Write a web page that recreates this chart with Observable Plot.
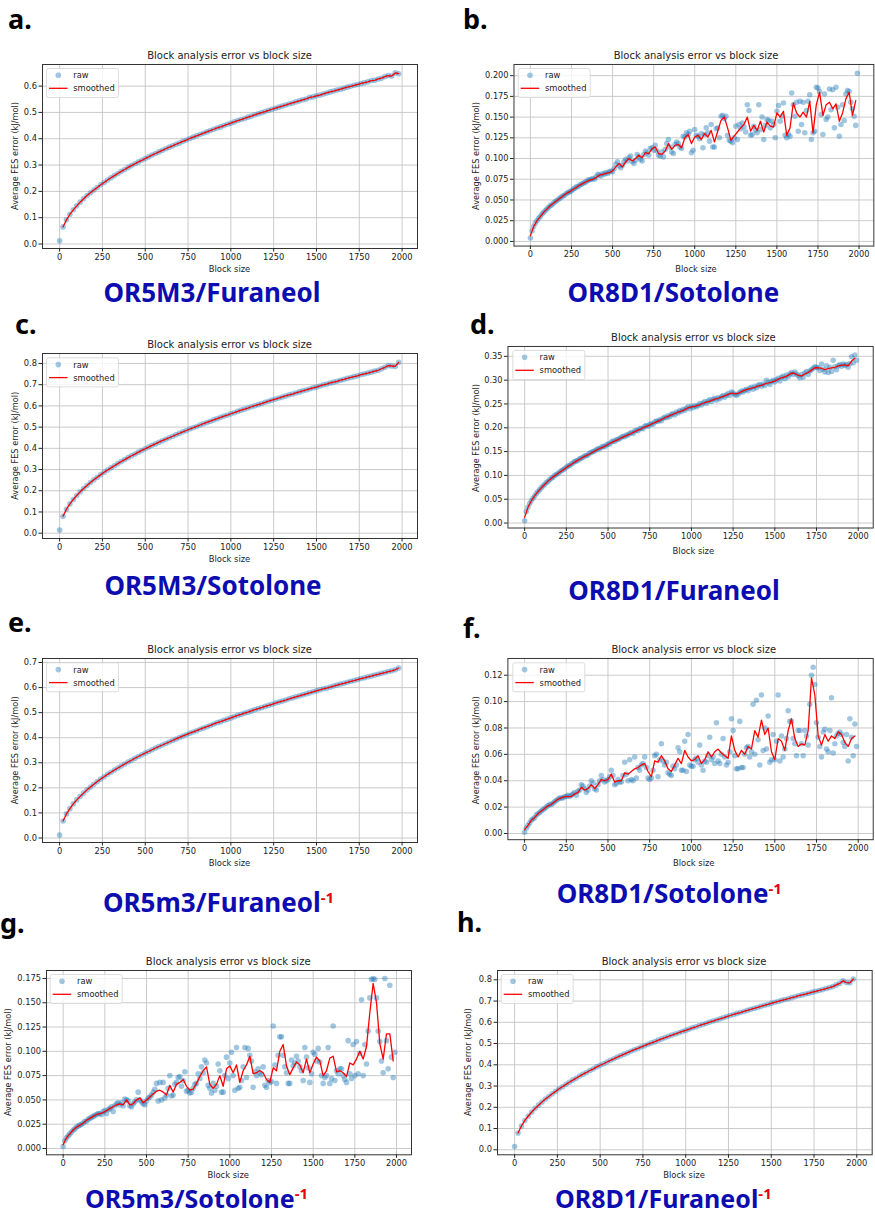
<!DOCTYPE html>
<html><head><meta charset="utf-8">
<script src="https://cdn.jsdelivr.net/npm/d3@7"></script>
<script src="https://cdn.jsdelivr.net/npm/@observablehq/plot@0.6"></script>
<style>
html,body{margin:0;padding:0;background:#fff;overflow:hidden;}
#page{position:relative;width:875px;height:1214px;overflow:hidden;background:#fff;}
.panel{position:absolute;}
#overlay{position:absolute;left:0;top:0;pointer-events:none;}
</style></head><body><div id="page"></div>
<script>
// ---------- DATA ----------
const blockSizes10 = d3.range(0, 2000, 10);   // raw samples of noisy panels
const blockSizes20 = d3.range(0, 2000, 20);   // samples of smooth panels / smoothed lines
const xTickValues = [0, 250, 500, 750, 1000, 1250, 1500, 1750, 2000];

const yTicksA = [0, 0.1, 0.2, 0.3, 0.4, 0.5, 0.6];
const yTicksB = [0, 0.025, 0.05, 0.075, 0.1, 0.125, 0.15, 0.175, 0.2];
const yTicksC = [0, 0.1, 0.2, 0.3, 0.4, 0.5, 0.6, 0.7, 0.8];
const yTicksD = [0, 0.05, 0.1, 0.15, 0.2, 0.25, 0.3, 0.35];
const yTicksE = [0, 0.1, 0.2, 0.3, 0.4, 0.5, 0.6, 0.7];
const yTicksF = [0, 0.02, 0.04, 0.06, 0.08, 0.1, 0.12];
const yTicksG = [0, 0.025, 0.05, 0.075, 0.1, 0.125, 0.15, 0.175];
const yTicksH = [0, 0.1, 0.2, 0.3, 0.4, 0.5, 0.6, 0.7, 0.8];

const panelNames = ["OR5M3/Furaneol", "OR8D1/Sotolone", "OR5M3/Sotolone", "OR8D1/Furaneol",
                    "OR5m3/Furaneol", "OR8D1/Sotolone", "OR5m3/Sotolone", "OR8D1/Furaneol"];
const panelLetters = ["a.", "b.", "c.", "d.", "e.", "f.", "g.", "h."];

// a. OR5M3/Furaneol (every 20)
const aRaw = [
0.012,0.065,0.092,0.113,0.130,0.145,0.159,0.172,0.184,0.195,
0.205,0.215,0.225,0.234,0.243,0.252,0.260,0.268,0.276,0.283,
0.291,0.298,0.305,0.312,0.318,0.325,0.331,0.338,0.344,0.350,
0.356,0.362,0.368,0.373,0.379,0.384,0.390,0.395,0.401,0.406,
0.411,0.416,0.421,0.426,0.431,0.436,0.441,0.445,0.450,0.455,
0.459,0.464,0.469,0.473,0.477,0.482,0.486,0.491,0.495,0.499,
0.503,0.508,0.512,0.516,0.520,0.524,0.528,0.532,0.536,0.540,
0.544,0.548,0.551,0.557,0.559,0.563,0.566,0.570,0.574,0.578,
0.581,0.585,0.588,0.592,0.596,0.599,0.603,0.606,0.610,0.613,
0.616,0.621,0.622,0.627,0.630,0.636,0.640,0.638,0.650,0.647];

// b. OR8D1/Sotolone raw (every 10) and smoothed (every 20)
const bRaw = [
0.004,0.013,0.018,0.022,0.025,0.028,0.030,0.033,0.035,0.037,
0.039,0.041,0.043,0.044,0.046,0.048,0.049,0.051,0.052,0.054,
0.055,0.056,0.058,0.059,0.060,0.061,0.063,0.064,0.066,0.066,
0.068,0.069,0.070,0.071,0.072,0.074,0.074,0.075,0.076,0.075,
0.078,0.081,0.080,0.079,0.082,0.081,0.083,0.082,0.084,0.085,
0.084,0.088,0.093,0.096,0.091,0.089,0.092,0.096,0.099,0.097,
0.101,0.103,0.096,0.094,0.098,0.105,0.102,0.099,0.097,0.105,
0.109,0.107,0.104,0.112,0.113,0.110,0.116,0.109,0.104,0.103,
0.108,0.102,0.111,0.118,0.123,0.114,0.108,0.106,0.117,0.120,
0.118,0.114,0.112,0.127,0.126,0.131,0.129,0.133,0.107,0.110,
0.135,0.128,0.127,0.124,0.130,0.113,0.129,0.137,0.131,0.121,
0.141,0.114,0.114,0.136,0.137,0.125,0.151,0.152,0.148,0.151,
0.128,0.122,0.121,0.119,0.125,0.139,0.123,0.141,0.136,0.143,
0.138,0.132,0.165,0.158,0.128,0.129,0.139,0.134,0.131,0.165,
0.135,0.150,0.123,0.140,0.147,0.146,0.137,0.145,0.141,0.125,
0.157,0.164,0.145,0.151,0.167,0.128,0.125,0.129,0.127,0.179,
0.165,0.151,0.168,0.133,0.169,0.141,0.168,0.131,0.158,0.169,
0.177,0.123,0.131,0.133,0.186,0.185,0.181,0.153,0.129,0.178,
0.147,0.150,0.184,0.159,0.183,0.137,0.186,0.162,0.127,0.141,
0.165,0.146,0.178,0.182,0.181,0.168,0.160,0.151,0.140,0.203];
const bSmooth = [
0.007,0.018,0.025,0.030,0.035,0.039,0.043,0.046,0.049,0.052,
0.055,0.058,0.060,0.063,0.065,0.068,0.070,0.072,0.074,0.075,
0.077,0.080,0.081,0.082,0.083,0.085,0.090,0.094,0.090,0.096,
0.100,0.097,0.100,0.104,0.101,0.107,0.106,0.112,0.114,0.106,
0.105,0.109,0.118,0.111,0.116,0.117,0.113,0.125,0.129,0.118,
0.126,0.128,0.123,0.130,0.126,0.134,0.120,0.133,0.146,0.150,
0.137,0.122,0.127,0.132,0.137,0.141,0.150,0.133,0.140,0.134,
0.145,0.132,0.144,0.139,0.138,0.155,0.150,0.157,0.128,0.137,
0.167,0.155,0.150,0.156,0.150,0.169,0.131,0.165,0.180,0.152,
0.165,0.168,0.160,0.166,0.145,0.155,0.172,0.180,0.152,0.170];

// c. OR5M3/Sotolone (every 20)
const cRaw = [
0.015,0.080,0.113,0.138,0.159,0.178,0.195,0.211,0.225,0.239,
0.252,0.264,0.276,0.287,0.298,0.308,0.318,0.328,0.338,0.347,
0.356,0.365,0.373,0.382,0.390,0.398,0.406,0.414,0.421,0.429,
0.436,0.443,0.450,0.457,0.464,0.471,0.478,0.484,0.491,0.497,
0.503,0.510,0.516,0.522,0.528,0.534,0.540,0.546,0.552,0.557,
0.563,0.568,0.574,0.580,0.585,0.590,0.596,0.601,0.606,0.611,
0.617,0.622,0.627,0.632,0.637,0.642,0.647,0.652,0.656,0.661,
0.666,0.671,0.675,0.680,0.685,0.689,0.694,0.699,0.703,0.708,
0.712,0.716,0.721,0.725,0.730,0.734,0.738,0.742,0.747,0.751,
0.755,0.759,0.764,0.768,0.775,0.782,0.790,0.788,0.786,0.805];

// d. OR8D1/Furaneol raw (every 10) and smoothed (every 20)
const dRaw = [
0.005,0.024,0.033,0.041,0.047,0.052,0.057,0.062,0.066,0.070,
0.074,0.078,0.081,0.085,0.087,0.091,0.094,0.096,0.100,0.102,
0.104,0.107,0.110,0.112,0.114,0.117,0.120,0.121,0.124,0.126,
0.129,0.130,0.132,0.135,0.136,0.138,0.141,0.142,0.143,0.147,
0.148,0.150,0.151,0.154,0.156,0.156,0.159,0.161,0.160,0.164,
0.166,0.166,0.170,0.172,0.171,0.175,0.176,0.177,0.180,0.182,
0.181,0.185,0.185,0.188,0.190,0.188,0.193,0.195,0.194,0.198,
0.199,0.198,0.203,0.205,0.203,0.207,0.209,0.207,0.212,0.214,
0.213,0.217,0.215,0.220,0.222,0.221,0.225,0.223,0.228,0.230,
0.227,0.233,0.231,0.236,0.234,0.239,0.237,0.241,0.244,0.240,
0.245,0.242,0.246,0.244,0.247,0.251,0.248,0.252,0.255,0.251,
0.256,0.259,0.255,0.260,0.262,0.258,0.263,0.261,0.265,0.268,
0.264,0.269,0.272,0.268,0.275,0.273,0.270,0.268,0.271,0.274,
0.277,0.275,0.279,0.281,0.278,0.283,0.285,0.281,0.287,0.284,
0.289,0.291,0.287,0.292,0.289,0.300,0.295,0.291,0.297,0.300,
0.296,0.301,0.304,0.298,0.306,0.308,0.303,0.311,0.307,0.313,
0.316,0.312,0.317,0.313,0.309,0.305,0.312,0.306,0.315,0.318,
0.312,0.319,0.322,0.325,0.328,0.327,0.326,0.320,0.334,0.323,
0.317,0.330,0.316,0.327,0.318,0.342,0.328,0.322,0.330,0.333,
0.329,0.334,0.331,0.333,0.327,0.335,0.349,0.336,0.353,0.342];
const dSmooth = [
0.012,0.033,0.047,0.057,0.066,0.074,0.081,0.088,0.094,0.099,
0.104,0.109,0.114,0.119,0.123,0.128,0.132,0.136,0.140,0.143,
0.147,0.151,0.155,0.158,0.161,0.165,0.169,0.172,0.175,0.179,
0.182,0.185,0.188,0.192,0.195,0.198,0.202,0.204,0.208,0.211,
0.214,0.217,0.221,0.224,0.227,0.230,0.233,0.235,0.238,0.242,
0.244,0.245,0.247,0.250,0.253,0.255,0.257,0.260,0.262,0.265,
0.267,0.270,0.273,0.271,0.272,0.276,0.279,0.281,0.283,0.285,
0.288,0.289,0.292,0.294,0.296,0.298,0.302,0.305,0.307,0.310,
0.315,0.314,0.310,0.309,0.313,0.316,0.321,0.326,0.326,0.325,
0.322,0.324,0.326,0.327,0.330,0.331,0.332,0.330,0.340,0.346];

// e. OR5m3/Furaneol-1 (every 20)
const eRaw = [
0.012,0.068,0.096,0.117,0.136,0.152,0.166,0.179,0.192,0.203,
0.214,0.225,0.235,0.244,0.254,0.262,0.271,0.279,0.287,0.295,
0.303,0.310,0.318,0.325,0.332,0.339,0.345,0.352,0.359,0.365,
0.371,0.377,0.383,0.389,0.395,0.401,0.407,0.412,0.418,0.423,
0.428,0.434,0.439,0.444,0.449,0.455,0.460,0.464,0.469,0.474,
0.479,0.484,0.489,0.493,0.498,0.502,0.507,0.512,0.516,0.520,
0.525,0.529,0.533,0.538,0.542,0.546,0.550,0.555,0.559,0.563,
0.567,0.571,0.575,0.579,0.583,0.587,0.591,0.595,0.598,0.602,
0.606,0.610,0.614,0.617,0.621,0.625,0.628,0.632,0.636,0.639,
0.643,0.646,0.650,0.653,0.657,0.660,0.664,0.667,0.671,0.678];

// f. OR8D1/Sotolone-1 raw (every 10) and smoothed (every 20)
const fRaw = [
0.001,0.004,0.006,0.008,0.010,0.011,0.012,0.014,0.015,0.016,
0.017,0.018,0.019,0.020,0.021,0.022,0.022,0.023,0.024,0.025,
0.026,0.027,0.027,0.027,0.028,0.028,0.029,0.028,0.029,0.030,
0.031,0.029,0.032,0.033,0.037,0.036,0.034,0.031,0.033,0.036,
0.040,0.038,0.034,0.033,0.037,0.040,0.044,0.041,0.039,0.040,
0.041,0.043,0.048,0.044,0.037,0.038,0.041,0.039,0.039,0.044,
0.054,0.045,0.040,0.056,0.041,0.040,0.058,0.042,0.050,0.048,
0.052,0.053,0.058,0.050,0.042,0.041,0.042,0.048,0.059,0.060,
0.043,0.056,0.068,0.055,0.052,0.054,0.046,0.045,0.044,0.051,
0.049,0.052,0.065,0.062,0.048,0.048,0.070,0.047,0.075,0.052,
0.051,0.051,0.056,0.057,0.054,0.067,0.052,0.048,0.055,0.054,
0.059,0.073,0.056,0.058,0.053,0.084,0.055,0.053,0.060,0.072,
0.058,0.052,0.054,0.062,0.087,0.078,0.059,0.049,0.049,0.085,
0.050,0.050,0.060,0.065,0.066,0.058,0.062,0.098,0.060,0.101,
0.071,0.052,0.105,0.063,0.080,0.064,0.089,0.054,0.056,0.075,
0.056,0.070,0.105,0.055,0.074,0.058,0.064,0.072,0.093,0.085,
0.085,0.072,0.068,0.059,0.078,0.078,0.068,0.059,0.078,0.074,
0.067,0.098,0.120,0.126,0.113,0.084,0.073,0.066,0.058,0.077,
0.079,0.064,0.062,0.078,0.103,0.061,0.068,0.074,0.076,0.077,
0.075,0.069,0.066,0.075,0.055,0.087,0.073,0.059,0.083,0.066];
const fSmooth = [
0.003,0.006,0.010,0.012,0.015,0.017,0.019,0.021,0.022,0.024,
0.026,0.027,0.028,0.028,0.028,0.030,0.031,0.035,0.033,0.034,
0.037,0.034,0.037,0.041,0.040,0.041,0.045,0.039,0.040,0.040,
0.046,0.045,0.047,0.049,0.050,0.052,0.053,0.047,0.043,0.055,
0.054,0.059,0.055,0.049,0.047,0.052,0.057,0.053,0.063,0.058,
0.055,0.056,0.059,0.053,0.056,0.062,0.058,0.062,0.064,0.061,
0.059,0.057,0.074,0.063,0.058,0.063,0.060,0.066,0.064,0.078,
0.073,0.086,0.075,0.080,0.062,0.056,0.072,0.070,0.063,0.078,
0.087,0.072,0.066,0.068,0.067,0.078,0.118,0.105,0.074,0.067,
0.075,0.070,0.074,0.072,0.077,0.075,0.069,0.066,0.072,0.074];

// g. OR5m3/Sotolone-1 raw (every 10) and smoothed (every 20)
const gRaw = [
0.002,0.008,0.011,0.013,0.015,0.017,0.019,0.020,0.022,0.023,
0.024,0.025,0.026,0.028,0.028,0.030,0.031,0.032,0.033,0.034,
0.035,0.036,0.036,0.035,0.038,0.039,0.036,0.040,0.041,0.043,
0.038,0.044,0.046,0.047,0.045,0.047,0.044,0.051,0.050,0.049,
0.044,0.043,0.046,0.048,0.050,0.058,0.050,0.048,0.046,0.045,
0.049,0.052,0.053,0.055,0.058,0.061,0.067,0.049,0.068,0.050,
0.068,0.052,0.055,0.062,0.075,0.054,0.055,0.066,0.068,0.073,
0.074,0.064,0.070,0.079,0.059,0.060,0.057,0.058,0.062,0.066,
0.067,0.077,0.072,0.084,0.078,0.091,0.088,0.065,0.062,0.057,
0.067,0.060,0.064,0.087,0.080,0.058,0.058,0.075,0.094,0.072,
0.088,0.099,0.075,0.060,0.104,0.062,0.063,0.070,0.084,0.104,
0.073,0.103,0.096,0.090,0.063,0.079,0.075,0.082,0.078,0.076,
0.084,0.065,0.063,0.070,0.068,0.069,0.126,0.086,0.067,0.096,
0.115,0.115,0.096,0.084,0.078,0.067,0.067,0.091,0.085,0.088,
0.095,0.090,0.084,0.080,0.070,0.104,0.094,0.083,0.068,0.077,
0.099,0.097,0.090,0.103,0.089,0.075,0.067,0.073,0.075,0.104,
0.067,0.072,0.126,0.070,0.080,0.077,0.082,0.082,0.075,0.071,
0.068,0.111,0.077,0.072,0.107,0.075,0.110,0.077,0.098,0.153,
0.075,0.107,0.087,0.121,0.155,0.174,0.175,0.174,0.155,0.121,
0.110,0.090,0.078,0.175,0.111,0.082,0.168,0.094,0.073,0.099];
const gSmooth = [
0.004,0.011,0.015,0.019,0.022,0.024,0.026,0.029,0.031,0.033,
0.035,0.036,0.037,0.039,0.041,0.043,0.045,0.046,0.045,0.050,
0.045,0.046,0.050,0.052,0.047,0.050,0.053,0.056,0.059,0.060,
0.058,0.055,0.065,0.058,0.066,0.068,0.071,0.064,0.060,0.061,
0.067,0.074,0.080,0.084,0.066,0.062,0.066,0.075,0.064,0.082,
0.085,0.078,0.086,0.068,0.080,0.086,0.095,0.077,0.078,0.080,
0.078,0.071,0.068,0.083,0.080,0.100,0.107,0.085,0.076,0.083,
0.089,0.086,0.078,0.092,0.078,0.087,0.094,0.090,0.075,0.080,
0.093,0.095,0.079,0.080,0.078,0.074,0.088,0.086,0.092,0.100,
0.092,0.105,0.140,0.170,0.150,0.108,0.092,0.118,0.118,0.090];

// h. OR8D1/Furaneol-1 (every 20)
const hRaw = [
0.015,0.079,0.112,0.138,0.159,0.178,0.195,0.210,0.225,0.239,
0.251,0.264,0.275,0.287,0.297,0.308,0.318,0.328,0.337,0.347,
0.356,0.364,0.373,0.381,0.390,0.398,0.405,0.413,0.421,0.428,
0.436,0.443,0.450,0.457,0.464,0.471,0.477,0.484,0.490,0.497,
0.503,0.509,0.516,0.522,0.528,0.534,0.540,0.545,0.551,0.557,
0.562,0.568,0.574,0.579,0.585,0.590,0.595,0.601,0.606,0.611,
0.616,0.621,0.627,0.632,0.637,0.642,0.646,0.651,0.656,0.661,
0.666,0.670,0.675,0.680,0.684,0.689,0.694,0.698,0.703,0.707,
0.711,0.716,0.720,0.725,0.729,0.733,0.737,0.742,0.746,0.750,
0.754,0.759,0.763,0.768,0.776,0.783,0.795,0.787,0.786,0.804];

// ---------- LAYOUT ----------
const panels = [
  {L:42,    T:64,    R:417,   B:248,    yd:[-0.017,0.682],   ticks:yTicksA, fmt:".1f", raw:aRaw, rawX:blockSizes20, sm:aRaw.slice(1), smX:blockSizes20.slice(1), yOff:27},
  {L:513.7, T:64,    R:878.3, B:248,    yd:[-0.0056,0.2135], ticks:yTicksB, fmt:".3f", raw:bRaw, rawX:blockSizes10, sm:bSmooth, smX:blockSizes20, yOff:38},
  {L:42,    T:353.3, R:417,   B:538.3,  yd:[-0.025,0.847],   ticks:yTicksC, fmt:".1f", raw:cRaw, rawX:blockSizes20, sm:cRaw.slice(1), smX:blockSizes20.slice(1), yOff:27},
  {L:508.3, T:346,   R:878.5, B:530,    yd:[-0.0104,0.3707], ticks:yTicksD, fmt:".2f", raw:dRaw, rawX:blockSizes10, sm:dSmooth, smX:blockSizes20, yOff:32.6},
  {L:42,    T:658.3, R:417,   B:842.3,  yd:[-0.018,0.716],   ticks:yTicksE, fmt:".1f", raw:eRaw, rawX:blockSizes20, sm:eRaw.slice(1), smX:blockSizes20.slice(1), yOff:27},
  {L:508.3, T:658.3, R:879.2, B:842.3,  yd:[-0.0047,0.1327], ticks:yTicksF, fmt:".2f", raw:fRaw, rawX:blockSizes10, sm:fSmooth, smX:blockSizes20, yOff:32.6},
  {L:45.7,  T:970,   R:410.7, B:1154.3, yd:[-0.0065,0.1832], ticks:yTicksG, fmt:".3f", raw:gRaw, rawX:blockSizes10, sm:gSmooth, smX:blockSizes20, yOff:37.4},
  {L:496.7, T:970,   R:871.4, B:1154.3, yd:[-0.0235,0.8438], ticks:yTicksH, fmt:".1f", raw:hRaw, rawX:blockSizes20, sm:hRaw.slice(1), smX:blockSizes20.slice(1), yOff:28.4}
];
const letterPos = [[8,29],[463,29],[15,334],[470,334],[8,632],[463,638],[0,933],[457,932]];
const namePos = [
  {x:212, y:301.7, a:"middle", fs:26}, {x:673.3, y:301.7, a:"middle", fs:26},
  {x:213, y:595, a:"middle", fs:26},   {x:674, y:600, a:"middle", fs:26},
  {x:103, y:912, a:"start", sup:true, fs:26}, {x:556.7, y:903, a:"start", sup:true, fs:26},
  {x:85, y:1208, a:"start", sup:true, fs:25}, {x:555, y:1208, a:"start", sup:true, fs:25}
];

const page = document.getElementById("page");
const mL = 40, mR = 2, mT = 2, mB = 20;
const tickFont = "'DejaVu Sans', sans-serif";

panels.forEach(p => {
  const W = p.R - p.L + mL + mR, H = p.B - p.T + mT + mB;
  const rawData = p.raw.map((v, i) => ({x: p.rawX[i], y: v}));
  const smData = p.sm.map((v, i) => ({x: p.smX[i], y: v}));
  const chart = Plot.plot({
    width: W, height: H,
    marginLeft: mL, marginRight: mR, marginTop: mT, marginBottom: mB,
    style: {fontFamily: tickFont, fontSize: "8.3px", color: "#222", background: "none", overflow: "visible"},
    x: {domain: [-100, 2090], label: null},
    y: {domain: p.yd, label: null},
    marks: [
      Plot.gridX(xTickValues, {stroke: "#c4c4c4", strokeOpacity: 1, strokeWidth: 0.9}),
      Plot.gridY(p.ticks, {stroke: "#c4c4c4", strokeOpacity: 1, strokeWidth: 0.9}),
      Plot.dot(rawData, {x: "x", y: "y", r: 2.8, fill: "#1f77b4", fillOpacity: 0.42}),
      Plot.line(smData, {x: "x", y: "y", stroke: "#ff0000", strokeWidth: 1.3}),
      Plot.frame({stroke: "#333", strokeWidth: 1}),
      Plot.axisX(xTickValues, {tickSize: 3.5, tickPadding: 2, label: null, tickFormat: d => String(d)}),
      Plot.axisY(p.ticks, {tickSize: 3.5, tickPadding: 2, label: null, tickFormat: d3.format(p.fmt)})
    ]
  });
  const wrap = document.createElement("div");
  wrap.className = "panel";
  wrap.style.left = (p.L - mL) + "px";
  wrap.style.top = (p.T - mT) + "px";
  wrap.appendChild(chart);
  page.appendChild(wrap);
});

// ---------- TEXT OVERLAY ----------
const ov = d3.select(page).append("svg").attr("id", "overlay").attr("width", 875).attr("height", 1214);
panels.forEach((p, i) => {
  const cx = (p.L + p.R) / 2;
  ov.append("text").attr("x", cx).attr("y", p.T - 5).attr("text-anchor", "middle")
    .attr("font-family", tickFont).attr("font-size", 10).attr("fill", "#222")
    .text("Block analysis error vs block size");
  ov.append("text").attr("x", cx).attr("y", p.B + 24).attr("text-anchor", "middle")
    .attr("font-family", tickFont).attr("font-size", 8.4).attr("fill", "#222").text("Block size");
  ov.append("text").attr("transform", `translate(${p.L - p.yOff},${(p.T + p.B) / 2}) rotate(-90)`)
    .attr("text-anchor", "middle").attr("dominant-baseline", "central")
    .attr("font-family", tickFont).attr("font-size", 8.2).attr("fill", "#222")
    .text("Average FES error (kJ/mol)");
  // legend
  const lg = ov.append("g");
  lg.append("rect").attr("x", p.L + 4.5).attr("y", p.T + 4.5).attr("width", 72).attr("height", 29)
    .attr("rx", 2).attr("fill", "#fff").attr("fill-opacity", 0.8).attr("stroke", "#d4d4d4").attr("stroke-width", 0.8);
  lg.append("circle").attr("cx", p.L + 16.3).attr("cy", p.T + 11.3).attr("r", 2.8)
    .attr("fill", "#1f77b4").attr("fill-opacity", 0.42);
  lg.append("line").attr("x1", p.L + 7).attr("x2", p.L + 25.5).attr("y1", p.T + 24.3).attr("y2", p.T + 24.3)
    .attr("stroke", "#ff0000").attr("stroke-width", 1.3);
  lg.append("text").attr("x", p.L + 31.3).attr("y", p.T + 14.3).attr("font-family", tickFont)
    .attr("font-size", 8.3).attr("fill", "#222").text("raw");
  lg.append("text").attr("x", p.L + 31.3).attr("y", p.T + 27.3).attr("font-family", tickFont)
    .attr("font-size", 8.3).attr("fill", "#222").text("smoothed");
  // panel letter
  ov.append("text").attr("x", letterPos[i][0]).attr("y", letterPos[i][1])
    .attr("font-family", "'Noto Sans', sans-serif").attr("font-weight", 700).attr("font-size", 27)
    .attr("fill", "#000").text(panelLetters[i]);
  // panel name
  const np = namePos[i];
  const t = ov.append("text").attr("x", np.x).attr("y", np.y).attr("text-anchor", np.a)
    .attr("font-family", "'Noto Sans', sans-serif").attr("font-weight", 700).attr("font-size", np.fs)
    .attr("fill", "#0c0cb0");
  t.append("tspan").text(panelNames[i]);
  if (np.sup) t.append("tspan").attr("dy", -9).attr("font-size", 15).attr("fill", "#e8000b").text("-1");
});
</script>
</body></html>
